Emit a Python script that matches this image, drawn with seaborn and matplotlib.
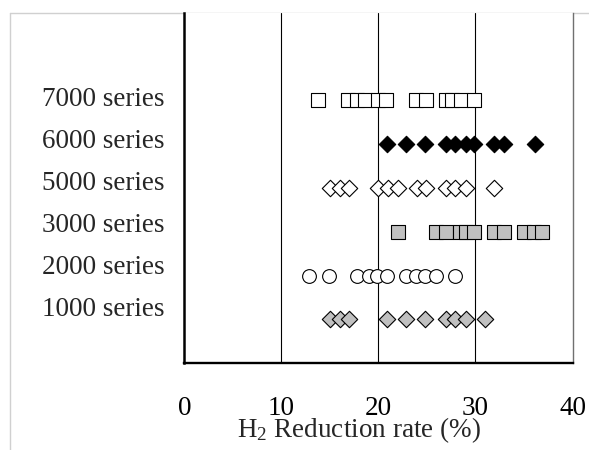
import matplotlib
matplotlib.use("Agg")
import matplotlib.pyplot as plt
from matplotlib.lines import Line2D
import seaborn as sns
import pandas as pd

# Данные, ряды снизу вверх
series_names = ['1000 series', '2000 series', '3000 series',
                '5000 series', '6000 series', '7000 series']
s1000 = [15.0, 16.0, 17.0, 20.9, 22.8, 24.8, 27.0, 27.9, 29.0, 31.0]
s2000 = [12.8, 14.9, 17.8, 19.0, 19.9, 20.9, 22.8, 23.9, 24.8, 25.9, 27.9]
s3000 = [22.0, 25.9, 27.0, 28.4, 29.0, 29.9, 31.9, 32.9, 35.0, 36.0, 36.9]
s5000 = [15.0, 16.0, 17.0, 20.0, 21.0, 22.0, 24.0, 24.9, 27.0, 27.9, 29.0, 31.9]
s6000 = [20.9, 22.8, 24.8, 27.0, 27.9, 29.0, 29.9, 31.9, 32.9, 36.1]
s7000 = [13.8, 16.9, 17.8, 18.6, 20.0, 20.8, 23.9, 24.9, 27.0, 27.6, 28.5, 29.9]
all_values = [s1000, s2000, s3000, s5000, s6000, s7000]
x_ticks = [0, 10, 20, 30, 40]
x_label = 'H$_2$ Reduction rate (%)'

# стиль маркеров: (marker, заливка, размер)
styles = [('D', '#c0c0c0', 70), ('o', 'white', 98), ('s', '#c0c0c0', 98),
          ('D', 'white', 70), ('D', 'black', 70), ('s', 'white', 98)]

FS = 19.5

rows = []
for i, (name, vals) in enumerate(zip(series_names, all_values)):
    for v in vals:
        rows.append({'series': name, 'rate': v, 'pos': i + 1})
df = pd.DataFrame(rows)

sns.set_style('white')
plt.rcParams['font.family'] = ['Liberation Serif', 'DejaVu Serif']
plt.rcParams['mathtext.fontset'] = 'custom'
plt.rcParams['mathtext.rm'] = 'Liberation Serif'
plt.rcParams['mathtext.it'] = 'Liberation Serif:italic'

fig = plt.figure(figsize=(5.89, 4.5), dpi=100)
ax = fig.add_axes([0.313, 0.193, 0.659, 0.779])

# рамка диаграммы (светло-серая), слева и сверху
fx, fy = 9.5 / 589, 0.972
fig.add_artist(Line2D([fx, fx], [0, fy], transform=fig.transFigure,
                      color='#d0d0d0', linewidth=1, zorder=0))
fig.add_artist(Line2D([fx, 1], [fy, fy], transform=fig.transFigure,
                      color='#d0d0d0', linewidth=1, zorder=0))

for i, name in enumerate(series_names):
    m, fc, sz = styles[i]
    sub = df[df['series'] == name]
    sns.scatterplot(data=sub, x='rate', y='pos', marker=m, color=fc,
                    edgecolor='black', linewidth=0.8, s=sz, ax=ax, zorder=3,
                    legend=False)

for xv in x_ticks[1:-1]:
    ax.axvline(xv, color='black', linewidth=0.8, zorder=1)

ax.set_xlim(0, 40)
ax.set_ylim(0, 8)
ax.set_xticks(x_ticks)
ax.set_xticklabels([str(t) for t in x_ticks], fontsize=FS)
ax.set_yticks(range(1, 8))
ax.set_yticklabels([])
ax.tick_params(axis='x', direction='in', length=7, width=1.5, pad=24,
               colors='black')
ax.tick_params(axis='y', direction='in', length=5, width=1.2, colors='black')
ax.set_xlabel('')
ax.set_ylabel('')
fig.text(359 / 589, 1 - 437.5 / 450, x_label, ha='center', va='baseline',
         fontsize=FS)

# подписи рядов слева
for i, name in enumerate(series_names):
    ax.text(-0.052, (1.23 + 0.957 * i) / 8, name, transform=ax.transAxes,
            ha='right', va='center', fontsize=FS)

ax.spines['top'].set_visible(False)
ax.spines['left'].set_linewidth(1.8)
ax.spines['left'].set_color('black')
ax.spines['bottom'].set_linewidth(1.7)
ax.spines['bottom'].set_color('black')
ax.spines['right'].set_linewidth(1)
ax.spines['right'].set_color('#707070')

fig.savefig('out.png', dpi=100)
